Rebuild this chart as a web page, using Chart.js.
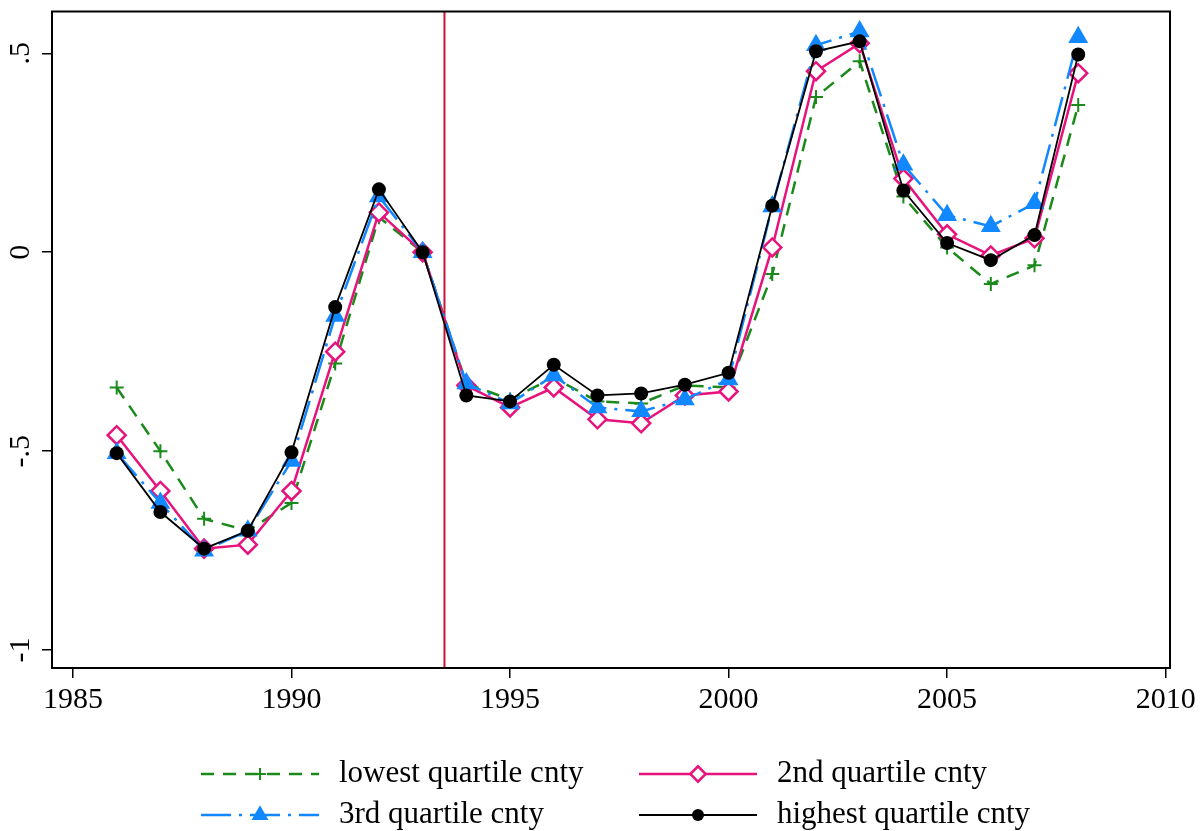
<!DOCTYPE html>
<html>
<head>
<meta charset="utf-8">
<script src="https://cdn.jsdelivr.net/npm/chart.js@4.4.1/dist/chart.umd.min.js"></script>
<style>
  html, body { margin: 0; padding: 0; background: #ffffff; }
  #wrap { width: 1200px; height: 831px; position: relative; }
</style>
</head>
<body>
<div id="wrap"><canvas id="c" width="1200" height="831"></canvas></div>
<script>
// ---------- data ----------
const years = [1986,1987,1988,1989,1990,1991,1992,1993,1994,1995,1996,1997,1998,1999,2000,2001,2002,2003,2004,2005,2006,2007,2008];
const lowestQ  = [-0.34,-0.50,-0.67,-0.70,-0.63,-0.28,0.088,0.0,-0.33,-0.37,-0.315,-0.375,-0.38,-0.335,-0.34,-0.055,0.39,0.48,0.14,0.012,-0.08,-0.033,0.37];
const secondQ  = [-0.46,-0.60,-0.745,-0.735,-0.60,-0.25,0.10,0.0,-0.335,-0.39,-0.34,-0.42,-0.43,-0.36,-0.35,0.012,0.455,0.525,0.185,0.045,-0.008,0.035,0.45];
const thirdQ   = [-0.505,-0.63,-0.75,-0.70,-0.525,-0.16,0.14,0.0,-0.33,-0.38,-0.31,-0.39,-0.40,-0.37,-0.32,0.115,0.52,0.555,0.22,0.093,0.065,0.123,0.54];
const highestQ = [-0.505,-0.653,-0.745,-0.70,-0.503,-0.138,0.158,0.0,-0.36,-0.375,-0.283,-0.36,-0.355,-0.333,-0.303,0.117,0.505,0.53,0.155,0.023,-0.02,0.043,0.497];
const seriesNames = ['lowest quartile cnty','2nd quartile cnty','3rd quartile cnty','highest quartile cnty'];
const xTicks = [1985,1990,1995,2000,2005,2010];
const yTicks = [-1,-0.5,0,0.5];
const yTickLabels = ['-1','-.5','0','.5'];
const breakYear = 1993.5;

// ---------- styles ----------
const FONT = '"Liberation Serif", "Times New Roman", serif';
const GREEN = '#1a8a1a', PINK = '#e8127c', BLUE = '#1188ff', BLACK = '#000000', RED = '#cc1038';

const toXY = arr => years.map((y, i) => ({x: y, y: arr[i]}));

const dsDefs = [
  {label: seriesNames[0], data: toXY(lowestQ), borderColor: GREEN, backgroundColor: GREEN, borderWidth: 2.5,
   borderDash: [13, 9], pointStyle: 'cross', pointRadius: 7, pointBorderWidth: 2, pointBorderColor: GREEN, order: 3},
  {label: seriesNames[1], data: toXY(secondQ), borderColor: PINK, backgroundColor: '#ffffff', borderWidth: 2.5,
   pointStyle: 'rectRot', pointRadius: 9, pointBorderWidth: 2.5, pointBorderColor: PINK, pointBackgroundColor: '#ffffff', order: 2},
  {label: seriesNames[2], data: toXY(thirdQ), borderColor: BLUE, backgroundColor: BLUE, borderWidth: 2.5,
   borderDash: [30, 8, 3, 8], pointStyle: 'triangle', pointRadius: 11.5, pointBorderWidth: 0, pointBackgroundColor: BLUE, order: 1},
  {label: seriesNames[3], data: toXY(highestQ), borderColor: BLACK, backgroundColor: BLACK, borderWidth: 1.8,
   pointStyle: 'circle', pointRadius: 7, pointBorderWidth: 0, pointBackgroundColor: BLACK, order: 0}
];
dsDefs.forEach(d => { d.tension = 0; d.fill = false; d.pointHoverRadius = d.pointRadius; });

// ---------- plugins ----------
const framePlugin = {
  id: 'frame',
  beforeDatasetsDraw(chart) {
    const {ctx, chartArea: a, scales: {x}} = chart;
    const px = x.getPixelForValue(breakYear);
    ctx.save();
    ctx.strokeStyle = RED; ctx.lineWidth = 2;
    ctx.beginPath(); ctx.moveTo(px, a.top); ctx.lineTo(px, a.bottom); ctx.stroke();
    ctx.restore();
  },
  afterDraw(chart) {
    const {ctx, chartArea: a, scales: {y}} = chart;
    ctx.save();
    ctx.strokeStyle = '#000'; ctx.lineWidth = 2;
    ctx.strokeRect(a.left, a.top, a.right - a.left, a.bottom - a.top);
    // rotated y tick labels
    ctx.fillStyle = '#000';
    ctx.font = '30px ' + FONT;
    ctx.textAlign = 'center'; ctx.textBaseline = 'middle';
    yTicks.forEach((v, i) => {
      const py = y.getPixelForValue(v);
      ctx.save();
      ctx.translate(21, py);
      ctx.rotate(-Math.PI / 2);
      ctx.fillText(yTickLabels[i], 0, 0);
      ctx.restore();
    });
    // legend
    const rows = [[0, 1], [2, 3]];
    const colX = [201, 639];
    const rowY = [774, 815];
    const lineW = 118;
    rows.forEach((r, ri) => {
      r.forEach((di, ci) => {
        const d = dsDefs[di];
        const x0 = colX[ci], yy = rowY[ri];
        ctx.save();
        ctx.strokeStyle = d.borderColor; ctx.lineWidth = d.borderWidth;
        ctx.setLineDash(d.borderDash || []);
        ctx.beginPath(); ctx.moveTo(x0, yy); ctx.lineTo(x0 + lineW, yy); ctx.stroke();
        ctx.setLineDash([]);
        ctx.fillStyle = d.pointBackgroundColor || d.backgroundColor;
        ctx.strokeStyle = d.pointBorderColor || d.borderColor;
        ctx.lineWidth = d.pointBorderWidth;
        Chart.helpers.drawPoint(ctx, {pointStyle: d.pointStyle, radius: d.pointStyle === 'circle' ? 6 : d.pointRadius * 0.85, borderWidth: d.pointBorderWidth, rotation: 0}, x0 + lineW / 2, yy);
        ctx.fillStyle = '#000';
        ctx.font = '31px ' + FONT;
        ctx.textAlign = 'left'; ctx.textBaseline = 'middle';
        ctx.fillText(d.label, x0 + lineW + 20, yy);
        ctx.restore();
      });
    });
    ctx.restore();
  }
};

// ---------- chart ----------
new Chart(document.getElementById('c'), {
  type: 'line',
  data: {datasets: dsDefs},
  options: {
    responsive: false,
    animation: false,
    layout: {padding: {top: 8, right: 30, left: 0, bottom: 0}},
    plugins: {legend: {display: false}, tooltip: {enabled: false}},
    scales: {
      x: {
        type: 'linear', min: 1984.52, max: 2010.1,
        afterBuildTicks: s => { s.ticks = xTicks.map(v => ({value: v})); },
        afterFit: s => { s.height = 163; },
        ticks: {color: '#000', font: {family: FONT, size: 30}, padding: 4, maxRotation: 0, callback: v => String(v)},
        grid: {display: true, drawOnChartArea: false, drawTicks: true, tickLength: 10, color: '#000', lineWidth: 1.5},
        border: {display: true, color: '#000', width: 2}
      },
      y: {
        type: 'linear', min: -1.045, max: 0.605,
        afterBuildTicks: s => { s.ticks = yTicks.map(v => ({value: v})); },
        afterFit: s => { s.width = 52; },
        ticks: {display: false},
        grid: {display: true, drawOnChartArea: false, drawTicks: true, tickLength: 10, color: '#000', lineWidth: 1.5},
        border: {display: true, color: '#000', width: 2}
      }
    }
  },
  plugins: [framePlugin]
});
</script>
</body>
</html>
